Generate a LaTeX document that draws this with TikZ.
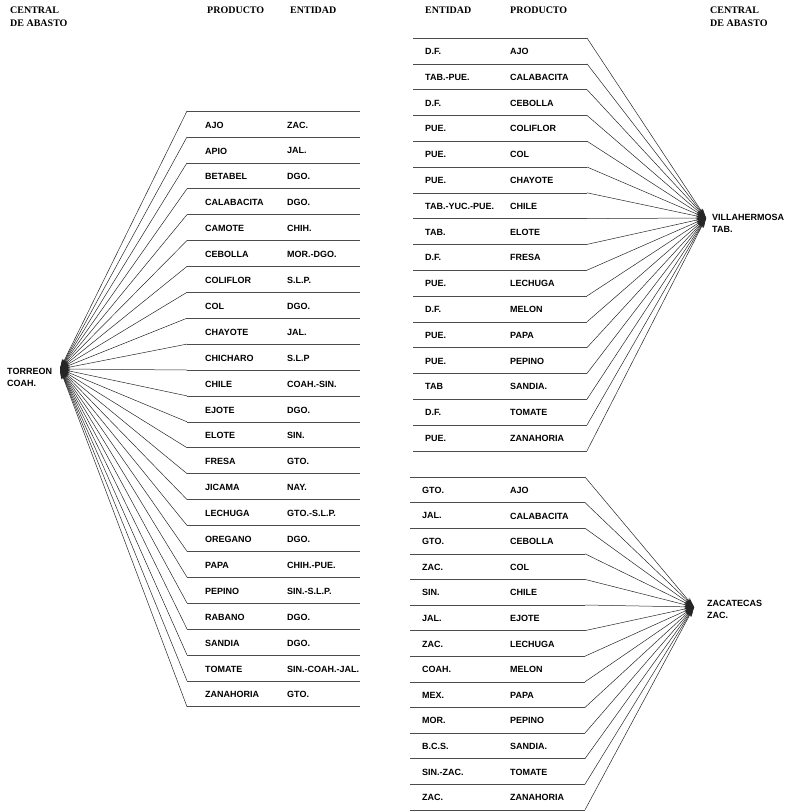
\documentclass[tikz,border=0pt]{standalone}
\usepackage{fontspec}
\setmainfont{Liberation Serif}
\setsansfont{Liberation Sans}
\usetikzlibrary{arrows.meta}

\begin{document}
\begin{tikzpicture}[
  x=1pt,
  y=-1pt,
  head/.style={font=\rmfamily\bfseries\fontsize{10}{13}\selectfont, anchor=north west, align=left, inner sep=0pt},
  cell/.style={font=\sffamily\bfseries\fontsize{9}{11}\selectfont, anchor=west, inner sep=0pt},
  hub/.style={font=\sffamily\bfseries\fontsize{9}{12}\selectfont, anchor=west, align=left, inner sep=0pt},
  rule/.style={line width=0.5pt, black!70},
  feed/.style={line width=0.5pt, black!85, -{Stealth[length=10pt,width=5pt]}}
]
  \useasboundingbox (0,0) rectangle (785,812);

  % column heads
  \node[head] (hl) at (10,7) {CENTRAL\\DE ABASTO};
  \node[head] (hlp) at (207,7) {PRODUCTO};
  \node[head] (hle) at (290,7) {ENTIDAD};
  \node[head] (hre) at (425,7) {ENTIDAD};
  \node[head] (hrp) at (510,7) {PRODUCTO};
  \node[head] (hr) at (710,7) {CENTRAL\\DE ABASTO};

  % centrales
  \node[hub] (torreon) at (7,377) {TORREON\\COAH.};
  \coordinate (torreon tip) at (60,369);
  \node[hub] (villa) at (712,223) {VILLAHERMOSA\\TAB.};
  \coordinate (villa tip) at (706,218);
  \node[hub] (zac) at (707,609) {ZACATECAS\\ZAC.};
  \coordinate (zac tip) at (694,607);

  % Torreon
  \foreach \prod/\ent [count=\i] in {AJO/ZAC., APIO/JAL., BETABEL/DGO., CALABACITA/DGO.,
      CAMOTE/CHIH., CEBOLLA/MOR.-DGO., COLIFLOR/S.L.P., COL/DGO., CHAYOTE/JAL.,
      CHICHARO/S.L.P, CHILE/COAH.-SIN., EJOTE/DGO., ELOTE/SIN., FRESA/GTO.,
      JICAMA/NAY., LECHUGA/GTO.-S.L.P., OREGANO/DGO., PAPA/CHIH.-PUE.,
      PEPINO/SIN.-S.L.P., RABANO/DGO., SANDIA/DGO., TOMATE/SIN.-COAH.-JAL.,
      ZANAHORIA/GTO.} {
    \node[cell] (tp\i) at (205,{111+25.9*\i-11.9}) {\prod};
    \node[cell] (te\i) at (287,{111+25.9*\i-11.9}) {\ent};
  }
  \foreach \k in {0,...,23} {
    \coordinate (ta\k) at (360,{111+25.9*\k});
    \coordinate (tb\k) at (187,{111+25.9*\k});
    \draw[rule] (ta\k) -- (tb\k);
    \draw[feed] (tb\k) -- (torreon tip);
  }

  % Villahermosa
  \foreach \ent/\prod [count=\i] in {D.F./AJO, TAB.-PUE./CALABACITA, D.F./CEBOLLA,
      PUE./COLIFLOR, PUE./COL, PUE./CHAYOTE, TAB.-YUC.-PUE./CHILE, TAB./ELOTE,
      D.F./FRESA, PUE./LECHUGA, D.F./MELON, PUE./PAPA, PUE./PEPINO, TAB/SANDIA.,
      D.F./TOMATE, PUE./ZANAHORIA} {
    \node[cell] (ve\i) at (425,{38+25.8*\i-12.4}) {\ent};
    \node[cell] (vp\i) at (510,{38+25.8*\i-12.4}) {\prod};
  }
  \foreach \k in {0,...,16} {
    \coordinate (va\k) at (413,{38+25.8*\k});
    \coordinate (vb\k) at (587,{38+25.8*\k});
    \draw[rule] (va\k) -- (vb\k);
    \draw[feed] (vb\k) -- (villa tip);
  }

  % Zacatecas
  \foreach \ent/\prod [count=\i] in {GTO./AJO, JAL./CALABACITA, GTO./CEBOLLA,
      ZAC./COL, SIN./CHILE, JAL./EJOTE, ZAC./LECHUGA, COAH./MELON, MEX./PAPA,
      MOR./PEPINO, B.C.S./SANDIA., SIN.-ZAC./TOMATE, ZAC./ZANAHORIA} {
    \node[cell] (ze\i) at (422,{477+25.6*\i-12.3}) {\ent};
    \node[cell] (zp\i) at (510,{477+25.6*\i-12.3}) {\prod};
  }
  \foreach \k in {0,...,13} {
    \coordinate (za\k) at (410,{477+25.6*\k});
    \coordinate (zb\k) at (585,{477+25.6*\k});
    \draw[rule] (za\k) -- (zb\k);
    \draw[feed] (zb\k) -- (zac tip);
  }
\end{tikzpicture}
\end{document}
